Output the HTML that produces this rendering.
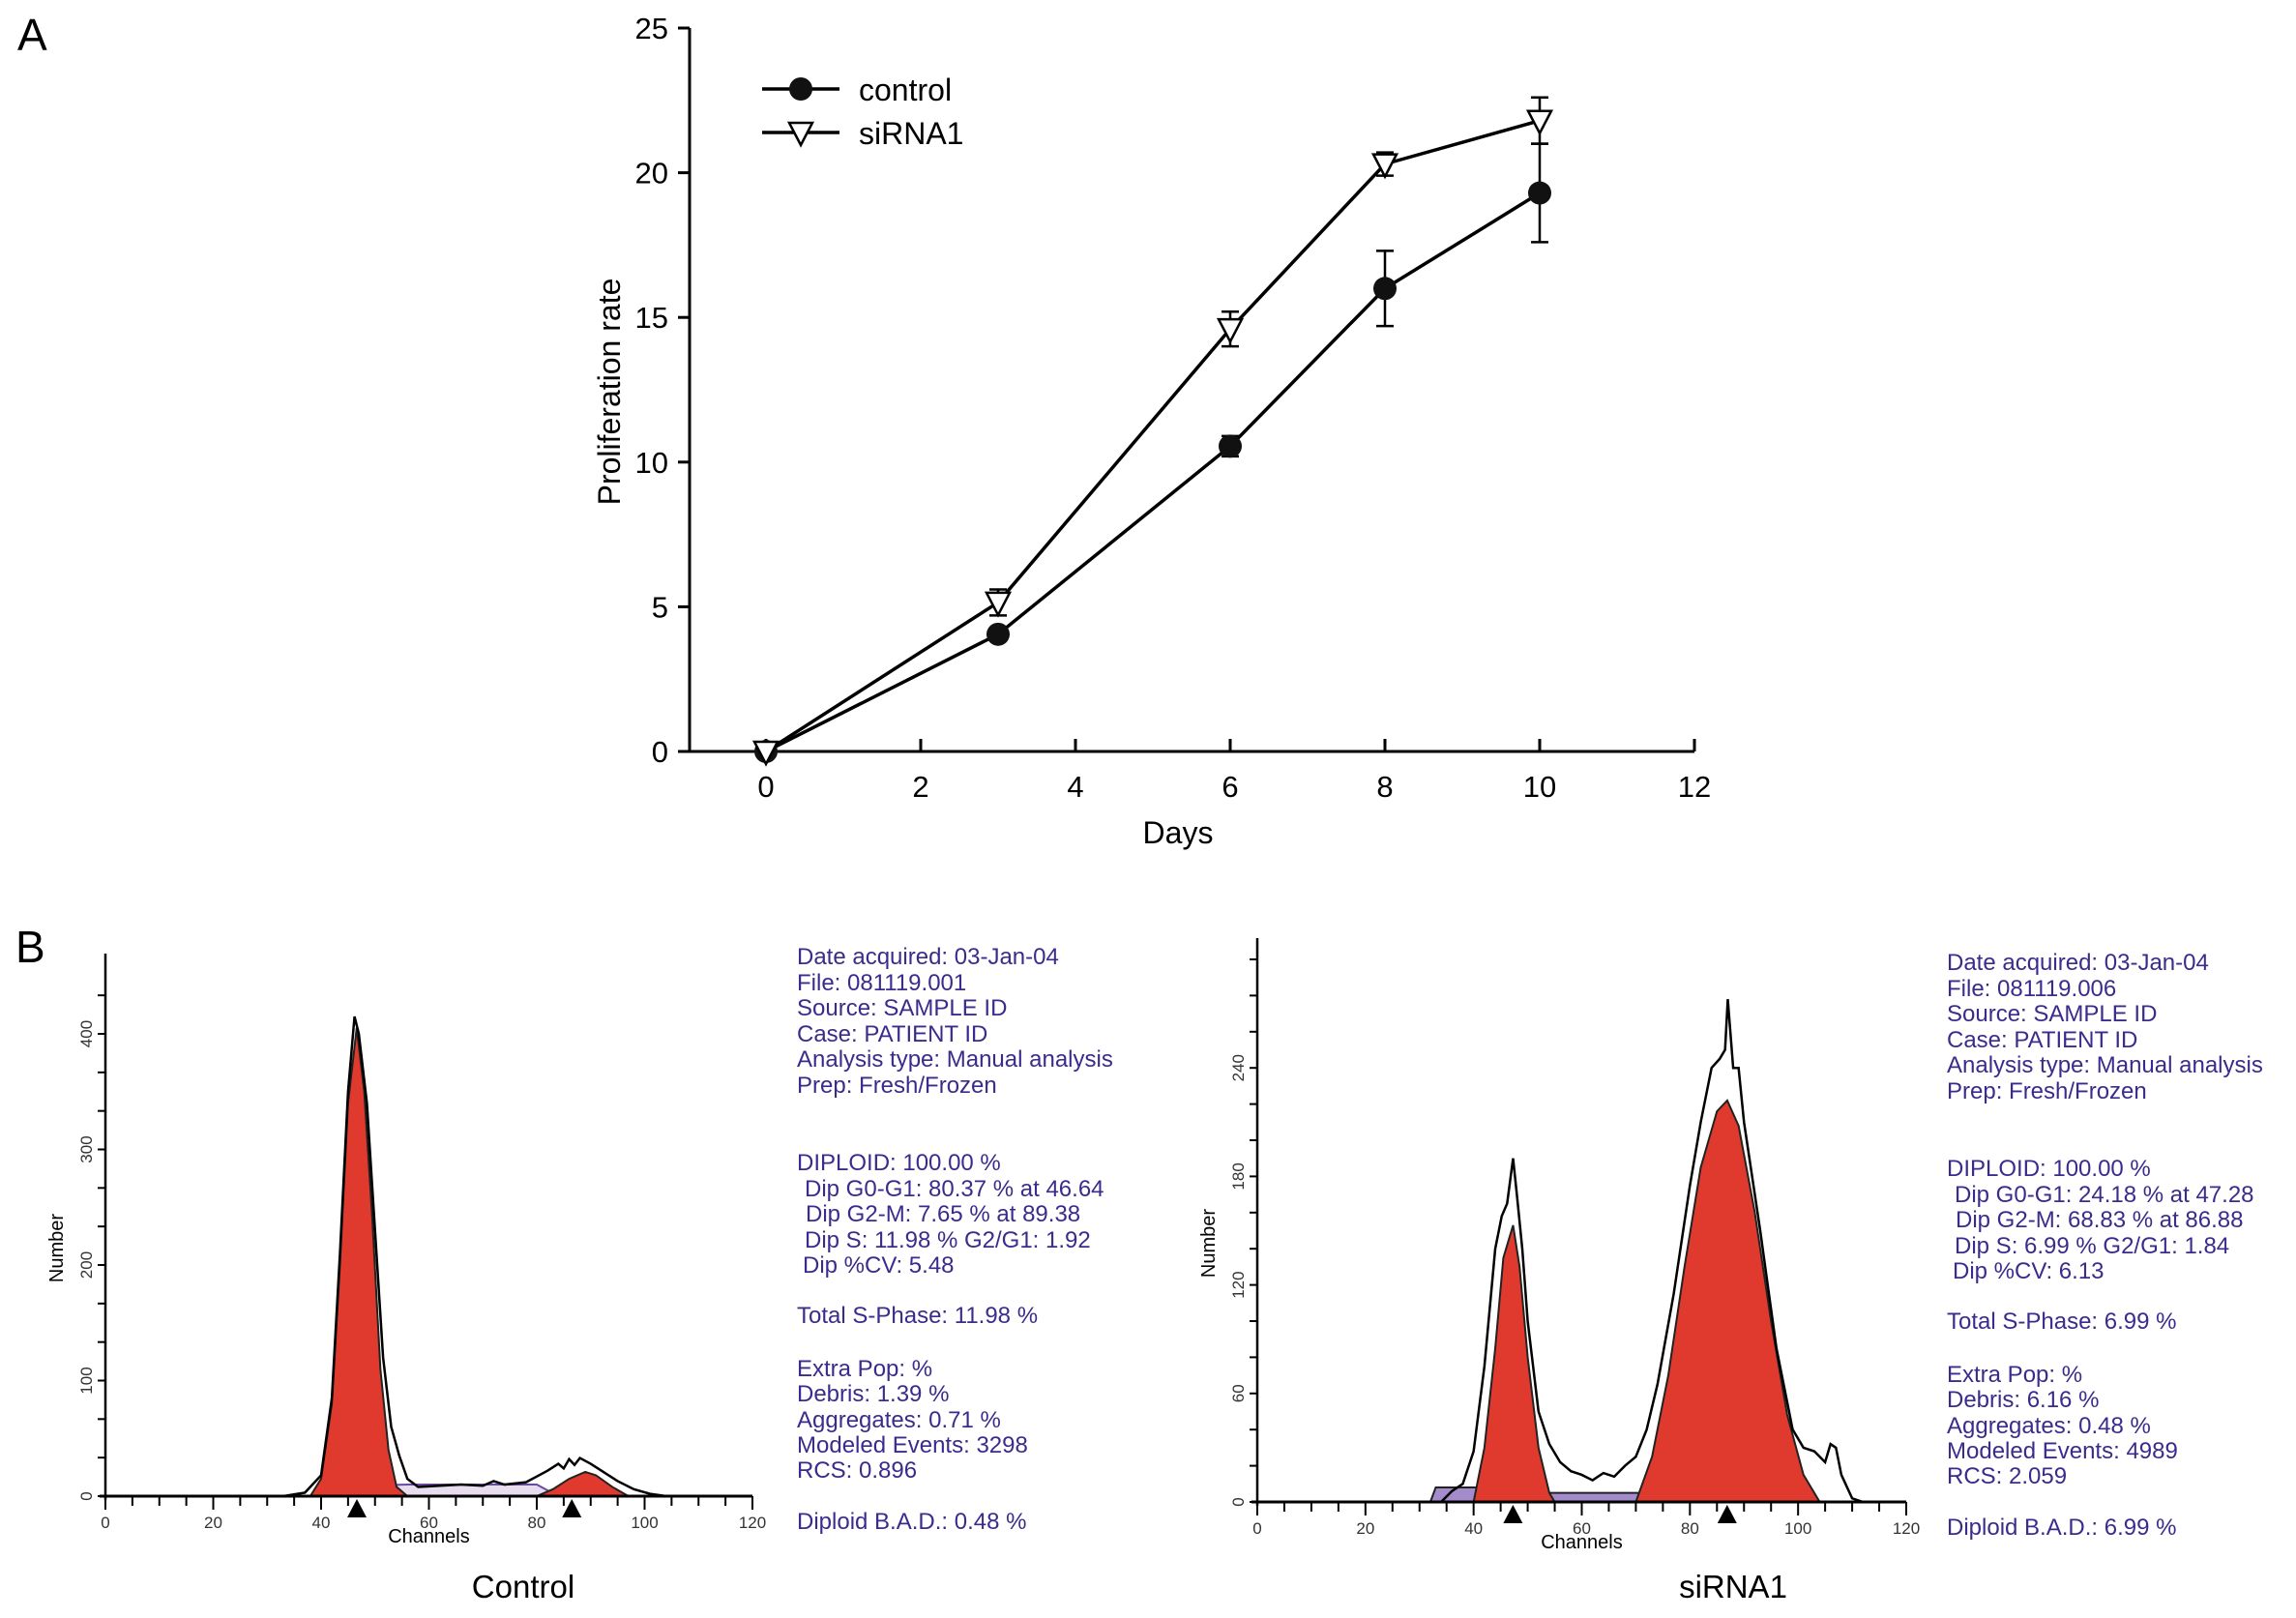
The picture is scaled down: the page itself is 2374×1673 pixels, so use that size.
<!DOCTYPE html>
<html><head><meta charset="utf-8"><style>
html,body{margin:0;padding:0;background:#fff}
svg{display:block}
.t{font-family:"Liberation Sans",sans-serif}
.b{fill:#3a2c8c;font-family:"Liberation Sans",sans-serif;font-size:24px}
</style></head><body>
<svg id="fig" width="2374" height="1673" viewBox="0 0 2374 1673" xmlns="http://www.w3.org/2000/svg">
<text class="t" x="18" y="52" font-size="46">A</text>
<text class="t" x="16" y="995" font-size="46">B</text>
<g id="pa"></g>
<g id="pb1"></g>
<g id="pb2"></g>
<text class="t" x="541" y="1652" font-size="33" text-anchor="middle">Control</text>
<text class="t" x="1792" y="1652" font-size="33" text-anchor="middle">siRNA1</text>
</svg>
<script>
const days=[0,3,6,8,10];
const controlVals=[0,4.05,10.55,16,19.3];
const controlErr=[0,0.15,0.35,1.3,1.7];
const sirnaVals=[0,5.15,14.6,20.3,21.8];
const sirnaErr=[0,0.45,0.6,0.4,0.8];
const xTicks=[0,2,4,6,8,10,12];
const yTicks=[0,5,10,15,20,25];

// histogram data (channel, count)
const ctrlG1=[[38,0],[40,15],[42,80],[43.5,200],[45,340],[46.6,405],[48,350],[49.5,240],[51,110],[52.5,40],[54,8],[56,0]];
const ctrlG2=[[80,0],[83,6],[86,15],[89,21],[91,18],[94,8],[97,0]];
const ctrlRaw=[[33,0],[37,3],[40,18],[42,85],[43.5,210],[45,350],[46.2,415],[47,400],[48.5,340],[50,230],[51.5,120],[53,60],[54.5,35],[56,15],[58,8],[62,9],[66,10],[70,9],[72,13],[74,10],[78,12],[80,17],[82,22],[84,28],[85,24],[86,32],[87,27],[88,33],[90,28],[92,22],[95,13],[98,6],[101,2],[104,0]];
const ctrlS=[[46,0],[48,9],[56,10],[80,10],[84,0]];
const sG1=[[40,0],[42,30],[44,85],[45.5,135],[47.3,153],[48.5,130],[50,80],[52,30],[54,5],[55,0]];
const sG2=[[70,0],[73,25],[76,70],[79,130],[82,185],[85,216],[86.9,222],[89,208],[92,160],[95,100],[98,48],[101,15],[104,0]];
const sRaw=[[34,0],[36,6],[38,10],[40,28],[42,75],[44,140],[45.2,158],[46.2,165],[47.3,190],[48,170],[49,140],[50,100],[52,50],[54,32],[56,22],[58,17],[60,15],[62,12],[64,16],[66,14],[68,20],[70,25],[72,40],[74,65],[77,115],[80,175],[82,210],[84,240],[85.5,245],[86.5,250],[87,278],[88,240],[89,240],[90,210],[93,150],[96,85],[99,40],[101,30],[103,28],[105,22],[106,32],[107,30],[108,15],[110,2],[112,0]];
const sDebris=[[32,0],[33,8],[44,8],[50,5],[70,5],[80,4],[84,2],[86,0]];

const NS="http://www.w3.org/2000/svg";
function mk(p,tag,a){const e=document.createElementNS(NS,tag);for(const k in a)e.setAttribute(k,a[k]);p.appendChild(e);return e;}

// ---- Panel A
const pa=document.getElementById('pa');
const X0=713,Y0=777,XL=792,XR=1752,YT=29;
const sx=d=>XL+(d-0)*(XR-XL)/12;
const sy=v=>Y0-v*(Y0-YT)/25;
let e=mk(pa,'path',{d:`M${X0},${YT} V${Y0} H${XR}`,fill:'none',stroke:'#000','stroke-width':3});

yTicks.forEach(v=>{mk(pa,'line',{x1:X0-12,x2:X0,y1:sy(v),y2:sy(v),stroke:'#000','stroke-width':3});
 const t=mk(pa,'text',{x:X0-22,y:sy(v)+11,'font-size':31,'text-anchor':'end',class:'t'});t.textContent=v;
 });
xTicks.forEach(v=>{mk(pa,'line',{x1:sx(v),x2:sx(v),y1:Y0-13,y2:Y0,stroke:'#000','stroke-width':3});
 const t=mk(pa,'text',{x:sx(v),y:Y0+47,'font-size':31,'text-anchor':'middle',class:'t'});t.textContent=v;
 });
let t=mk(pa,'text',{x:1218,y:872,'font-size':32,'text-anchor':'middle',class:'t'});t.textContent='Days';

t=mk(pa,'text',{x:0,y:0,'font-size':32,'text-anchor':'middle',class:'t',transform:'translate(641,405) rotate(-90)'});t.textContent='Proliferation rate';

function series(vals,err,kind,name){
 const g=mk(pa,'g',{});
 const l=mk(g,'polyline',{points:days.map((d,i)=>sx(d)+','+sy(vals[i])).join(' '),fill:'none',stroke:'#000','stroke-width':3.5});
 
 days.forEach((d,i)=>{
  if(err[i]>0){const x=sx(d);const eb=mk(g,'path',{d:`M${x},${sy(vals[i]-err[i])}V${sy(vals[i]+err[i])}M${x-9},${sy(vals[i]+err[i])}H${x+9}M${x-9},${sy(vals[i]-err[i])}H${x+9}`,stroke:'#000','stroke-width':2.5,fill:'none'});
   }
  let m;
  if(kind==='c') m=mk(g,'circle',{cx:sx(d),cy:sy(vals[i]),r:12,fill:'#111'});
  else {const x=sx(d),y=sy(vals[i]);m=mk(g,'path',{d:`M${x-12},${y-10}H${x+12}L${x},${y+13}Z`,fill:'#fff',stroke:'#000','stroke-width':2.5});}
  
 });
}
series(controlVals,controlErr,'c','control');
series(sirnaVals,sirnaErr,'t','sirna1');
// legend
let lg=mk(pa,'g',{});
mk(lg,'line',{x1:788,x2:868,y1:92,y2:92,stroke:'#000','stroke-width':3.5});
mk(lg,'circle',{cx:828,cy:92,r:12,fill:'#111'});
t=mk(lg,'text',{x:888,y:104,'font-size':32,class:'t'});t.textContent='control';

mk(lg,'line',{x1:788,x2:868,y1:137,y2:137,stroke:'#000','stroke-width':3.5});
mk(lg,'path',{d:'M816,127H840L828,150Z',fill:'#fff',stroke:'#000','stroke-width':2.5});
t=mk(lg,'text',{x:888,y:149,'font-size':32,class:'t'});t.textContent='siRNA1';


// ---- Panel B
function hist(id,ax,base,top,per,yTickVals,yMax,yLabMax,layers,textX,lines,markers){
 const g=document.getElementById(id);
 const cx=c=>ax+c*(ax===109?669:671)/120;
 const cy=v=>base-v*per;
 const P=a=>a.map(p=>cx(p[0])+','+cy(p[1])).join(' ');
 layers.forEach(L=>{
  if(L.raw){const pl=mk(g,'polyline',{points:P(L.pts),fill:'none',stroke:'#000','stroke-width':2.5});}
  else{const el=mk(g,'polygon',{points:P(L.pts),fill:L.fill,stroke:L.stroke,'stroke-width':2});}
 });
 mk(g,'line',{x1:ax,x2:ax,y1:top,y2:base+4,stroke:'#000','stroke-width':2.5});
 mk(g,'line',{x1:ax-6,x2:cx(120),y1:base,y2:base,stroke:'#000','stroke-width':3});
 for(let c=0;c<=120;c+=5){mk(g,'line',{x1:cx(c),x2:cx(c),y1:base,y2:base+(c%20===0?14:10),stroke:'#000','stroke-width':2});}
 for(let c=0;c<=120;c+=20){const tt=mk(g,'text',{x:cx(c),y:base+33,'font-size':17,'text-anchor':'middle',class:'t',fill:'#333'});tt.textContent=c;
  }
 for(let v=0;v<=yMax;v+=yTickVals/3){mk(g,'line',{x1:ax-8,x2:ax,y1:cy(v),y2:cy(v),stroke:'#000','stroke-width':2});}
 for(let v=0;v<=yLabMax;v+=yTickVals){const tt=mk(g,'text',{x:0,y:0,'font-size':17,'text-anchor':'middle',class:'t',fill:'#333',transform:`translate(${ax-14},${cy(v)}) rotate(-90)`});tt.textContent=v;
  }
 let tt=mk(g,'text',{x:cx(60),y:base+48,'font-size':20,'text-anchor':'middle',class:'t'});tt.textContent='Channels';
 
 tt=mk(g,'text',{x:0,y:0,'font-size':20,'text-anchor':'middle',class:'t',transform:`translate(${ax-44},${(base+top)/2+24}) rotate(-90)`});tt.textContent='Number';
 
 markers.forEach(m=>{const p=mk(g,'path',{d:`M${cx(m)-10},${base+22}L${cx(m)},${base+3}L${cx(m)+10},${base+22}Z`,fill:'#000'});});
 lines.forEach(s=>{const tx=mk(g,'text',{x:textX+s[1],y:s[2],class:'b'});tx.textContent=s[0];
  });
}
const ctrlLines=[["Date  acquired:  03-Jan-04",0,997],["File:   081119.001",0,1024],["Source: SAMPLE ID",0,1050],["Case: PATIENT ID",0,1077],["Analysis type: Manual analysis",0,1103],["Prep:  Fresh/Frozen",0,1130],
["DIPLOID:  100.00  %",0,1210],["Dip  G0-G1:  80.37  %  at  46.64",8,1237],["Dip  G2-M:  7.65  %  at  89.38",9,1263],["Dip  S:  11.98  %   G2/G1:  1.92",8,1290],["Dip  %CV:  5.48",6,1316],
["Total  S-Phase:  11.98  %",0,1368],["Extra Pop:   %",0,1423],["Debris:  1.39  %",0,1449],["Aggregates:  0.71  %",0,1476],["Modeled Events:  3298",0,1502],["RCS:  0.896",0,1528],["Diploid B.A.D.:  0.48  %",0,1581]];
hist('pb1',109,1547,986,1.195,100,460,400,[
 {name:'s-phase-band',pts:ctrlS,fill:'#e8dcef',stroke:'#6a4aa0'},
 {name:'g1-peak',pts:ctrlG1,fill:'#e03a2e',stroke:'#222'},
 {name:'g2-peak',pts:ctrlG2,fill:'#e03a2e',stroke:'#222'},
 {raw:true,pts:ctrlRaw}],824,ctrlLines,[46.64,86.5]);
const sLines=ctrlLines.map(s=>s.slice());
const repl=["Date  acquired:  03-Jan-04","File:   081119.006","Source: SAMPLE ID","Case: PATIENT ID","Analysis type: Manual analysis","Prep:  Fresh/Frozen","DIPLOID:  100.00  %","Dip  G0-G1:  24.18  %  at  47.28","Dip  G2-M:  68.83  %  at  86.88","Dip  S:  6.99  %   G2/G1:  1.84","Dip  %CV:  6.13","Total  S-Phase:  6.99  %","Extra Pop:   %","Debris:  6.16  %","Aggregates:  0.48  %","Modeled Events:  4989","RCS:  2.059","Diploid B.A.D.:  6.99  %"];
sLines.forEach((s,i)=>{s[0]=repl[i];s[2]+=6;});
hist('pb2',1300,1553,970,1.87,60,300,240,[
 {name:'debris-band',pts:sDebris,fill:'#a48ccc',stroke:'#222'},
 {name:'g1-peak',pts:sG1,fill:'#e03a2e',stroke:'#222'},
 {name:'g2-peak',pts:sG2,fill:'#e03a2e',stroke:'#222'},
 {raw:true,pts:sRaw}],2013,sLines,[47.28,86.88]);
</script>
</body></html>
